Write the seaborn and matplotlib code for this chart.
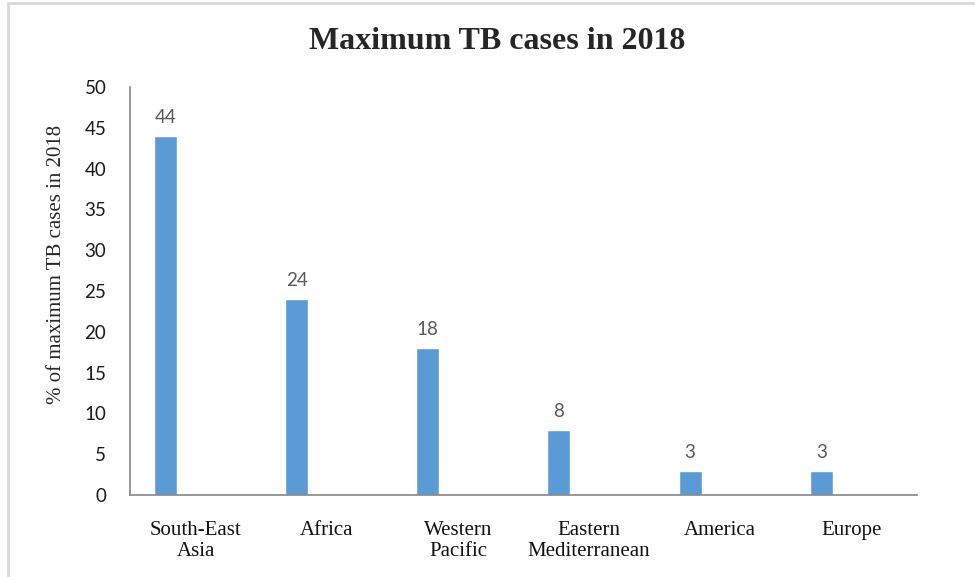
import seaborn as sns
import pandas as pd
import matplotlib.pyplot as plt
from matplotlib.patches import Rectangle

REGIONS = ["South-East\nAsia", "Africa", "Western\nPacific", "Eastern\nMediterranean", "America", "Europe"]
PCT_CASES = [44, 24, 18, 8, 3, 3]
Y_TICKS = [0, 5, 10, 15, 20, 25, 30, 35, 40, 45, 50]

BAR_COLOR = "#5B9BD5"
SERIF = "Liberation Serif"
SANS = "Lato"

df = pd.DataFrame({"region": REGIONS, "pct": PCT_CASES})

sns.set_style("white")
fig = plt.figure(figsize=(9.75, 5.77), dpi=100)
ax = fig.add_axes([0.1333, 0.1421, 0.8072, 0.7071])

sns.barplot(data=df, x="region", y="pct", color=BAR_COLOR, width=0.175,
            saturation=1, ax=ax)

# bars sit left of the category centre, like an excel cluster
for p in ax.patches:
    p.set_x(p.get_x() - 0.23)

ax.bar_label(ax.containers[0], labels=[str(v) for v in PCT_CASES], padding=7,
             fontsize=13.5, color="#595959", family=SANS)

ax.set_xlim(-0.5, len(REGIONS) - 0.5)
ax.set_ylim(0, 50)
ax.set_yticks(Y_TICKS)
ax.set_yticklabels([str(t) for t in Y_TICKS], family=SANS, fontsize=13.5, color="#1a1a1a")
ax.set_xticklabels(REGIONS, family=SERIF, fontsize=15, color="#111111", linespacing=1.1)
ax.tick_params(axis="both", length=0)
ax.tick_params(axis="y", pad=17)
ax.tick_params(axis="x", pad=19)

ax.set_xlabel("")
ax.set_ylabel("% of maximum TB cases in 2018", family=SERIF, fontsize=15)
ax.yaxis.set_label_coords(-0.081, 0.566)

sns.despine(ax=ax, top=True, right=True)
for side in ["left", "bottom"]:
    ax.spines[side].set_color("#868686")
    ax.spines[side].set_linewidth(1.2)

fig.text(0.51, 0.928, "Maximum TB cases in 2018", ha="center", va="center",
         family=SERIF, fontsize=23, fontweight="bold")

# light outer frame of the chart area
fig.patches.append(Rectangle((8 / 975, -0.05), 1.1, 1 - 3 / 577 + 0.05,
                             transform=fig.transFigure, fill=False,
                             edgecolor="#d9d9d9", linewidth=2))

plt.savefig("out.png", dpi=100)
plt.close()
